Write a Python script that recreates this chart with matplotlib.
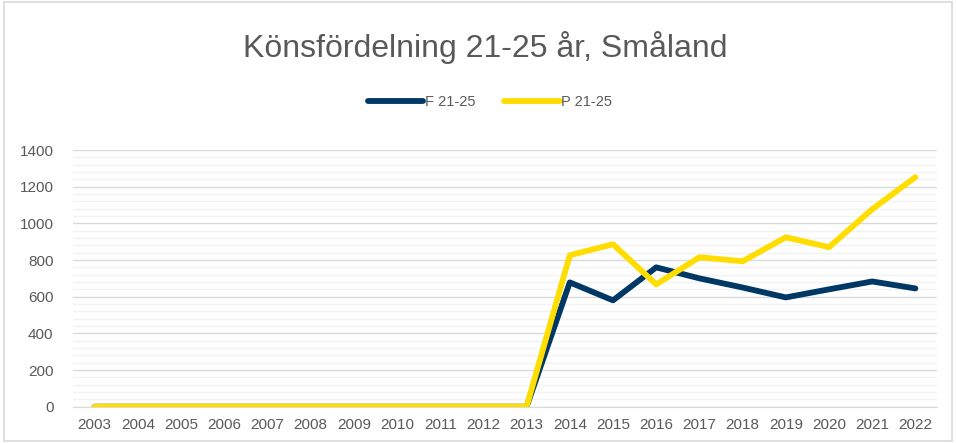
import matplotlib
matplotlib.use("Agg")
import matplotlib.pyplot as plt
from matplotlib.patches import Rectangle
from matplotlib.ticker import MultipleLocator

years = [str(y) for y in range(2003, 2023)]
f_values = [0, 0, 0, 0, 0, 0, 0, 0, 0, 0, 0, 678, 580, 760, 700, 650, 596, 640, 683, 645]
p_values = [0, 0, 0, 0, 0, 0, 0, 0, 0, 0, 0, 826, 886, 667, 815, 793, 924, 870, 1077, 1252]

plt.rcParams['font.family'] = ['Liberation Sans', 'DejaVu Sans']
W, H = 956, 443
fig = plt.figure(figsize=(W / 100, H / 100), dpi=100)
fig.patches.append(Rectangle((4 / W, 2 / H), (W - 8) / W, (H - 4) / H, transform=fig.transFigure,
                             fill=False, edgecolor='#d9d9d9', linewidth=1.2))

left, right, top, bottom = 73, 937, 150, 406.7
ax = fig.add_axes([left / W, 1 - bottom / H, (right - left) / W, (bottom - top) / H])

x = list(range(len(years)))
ax.plot(x, f_values, color='#003865', linewidth=4.2, solid_capstyle='round', solid_joinstyle='round',
        label='F 21-25', zorder=3)
ax.plot(x, p_values, color='#FFDD00', linewidth=4.2, solid_capstyle='round', solid_joinstyle='round',
        label='P 21-25', zorder=4)

ax.set_xlim(-0.5, len(years) - 0.5)
ax.set_ylim(0, 1400)
ax.yaxis.set_major_locator(MultipleLocator(200))
ax.yaxis.set_minor_locator(MultipleLocator(40))
ax.grid(which='major', axis='y', color='#d9d9d9', linewidth=1.0, zorder=0)
ax.grid(which='minor', axis='y', color='#f2f2f2', linewidth=1.0, zorder=0)
ax.set_axisbelow(True)
ax.set_xticks(x)
ax.set_xticklabels(years)
for s in ['top', 'right', 'left']:
    ax.spines[s].set_visible(False)
ax.spines['bottom'].set_color('#d9d9d9')
ax.tick_params(axis='both', which='both', length=0, labelsize=11, colors='#595959')
ax.tick_params(axis='x', pad=8)
ax.tick_params(axis='y', pad=14)

fig.text(485 / W, 1 - 48 / H, 'Könsfördelning 21-25 år, Småland', ha='center', va='center',
         fontsize=23, color='#595959')
leg = fig.legend(loc='center', bbox_to_anchor=(490 / W, 1 - 102 / H), ncol=2, frameon=False,
                 fontsize=10.5, handlelength=3.8, handletextpad=0.1, columnspacing=2.0)
for t in leg.get_texts():
    t.set_color('#595959')

fig.savefig('out.png', dpi=100)
